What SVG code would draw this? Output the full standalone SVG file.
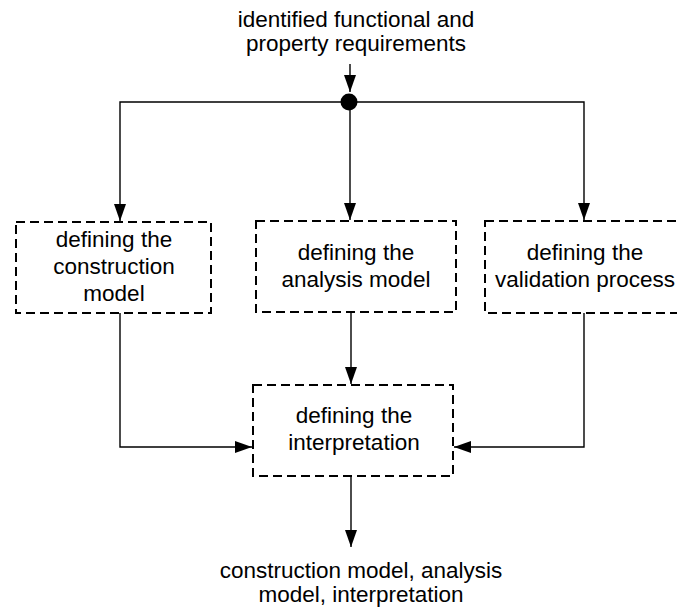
<svg xmlns="http://www.w3.org/2000/svg" width="677" height="610" viewBox="0 0 677 610">
<style>
text{font-family:"Liberation Sans",Arial,sans-serif;font-size:22.5px;fill:#000;text-anchor:middle}
.box{fill:#fff;stroke:#000;stroke-width:2;stroke-dasharray:9,5}
.c{fill:none;stroke:#000;stroke-width:1.4}
</style>
<defs>
<marker id="ah" markerWidth="17" markerHeight="12" refX="17" refY="6" viewBox="0 0 17 12" orient="auto" markerUnits="userSpaceOnUse">
<path d="M0,0 L17,6 L0,12 Z" fill="#000"/>
</marker>
</defs>
<g id="input"><text x="356" y="27">identified functional and</text><text x="356" y="51">property requirements</text></g>
<g id="output"><text x="361" y="578">construction model, analysis</text><text x="361" y="602">model, interpretation</text></g>
<g id="connectors">
<line class="c" x1="350" y1="64" x2="350" y2="92" marker-end="url(#ah)"/>
<polyline class="c" points="350,102 120,102 120,221" marker-end="url(#ah)"/>
<line class="c" x1="350" y1="102" x2="350" y2="220" marker-end="url(#ah)"/>
<polyline class="c" points="350,102 584,102 584,220" marker-end="url(#ah)"/>
<polyline class="c" points="120,313 120,447 252,447" marker-end="url(#ah)"/>
<line class="c" x1="351" y1="312" x2="351" y2="384" marker-end="url(#ah)"/>
<polyline class="c" points="584,313 584,447 454,447" marker-end="url(#ah)"/>
<line class="c" x1="351" y1="476" x2="351" y2="547" marker-end="url(#ah)"/>
<circle cx="349" cy="102" r="8.5" fill="#000"/>
</g>
<g id="construction"><rect class="box" x="16" y="222" width="195" height="91"/><text x="114" y="247">defining the</text><text x="114" y="274">construction</text><text x="114" y="301">model</text></g>
<g id="analysis"><rect class="box" x="256" y="221" width="200" height="91"/><text x="356" y="260">defining the</text><text x="356" y="287">analysis model</text></g>
<g id="validation"><rect class="box" x="485" y="221" width="205" height="92"/><text x="585" y="260">defining the</text><text x="585" y="287">validation process</text></g>
<g id="interpretation"><rect class="box" x="253" y="385" width="200" height="91"/><text x="354" y="423">defining the</text><text x="354" y="450">interpretation</text></g>
</svg>
